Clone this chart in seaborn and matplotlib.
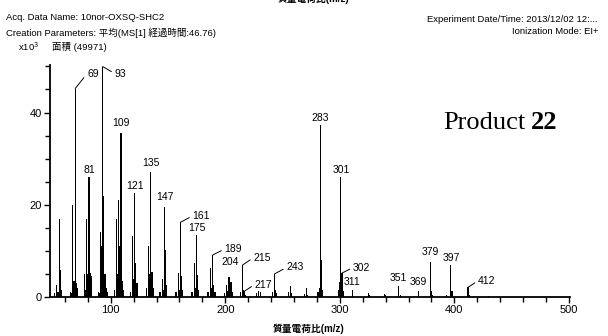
import numpy as np
import pandas as pd
import matplotlib
matplotlib.use("Agg")
import matplotlib.pyplot as plt
import seaborn as sns

# EI mass spectrum, intensities in units of 10^3 counts
mz = [51, 53, 54, 55, 56, 57,
      65, 66, 67, 68, 69, 70, 71,
      77, 78, 79, 80, 81, 82, 83,
      89, 90, 91, 92, 93, 94, 95, 96, 97,
      103, 105, 106, 107, 108, 109, 110, 111,
      117, 119, 120, 121, 122, 123,
      131, 133, 134, 135, 136, 137,
      143, 145, 146, 147, 148, 149,
      157, 159, 160, 161, 162, 163,
      171, 173, 174, 175, 176, 177,
      185, 187, 188, 189, 190, 191,
      199, 201, 202, 203, 204, 205, 206,
      213, 215, 216, 217, 218,
      227, 229, 231,
      241, 243, 244, 245,
      255, 257, 258,
      269, 271, 272,
      281, 282, 283, 284, 285,
      299, 300, 301, 302, 303,
      311, 325, 326, 339, 340,
      351, 353, 369, 379, 380, 381, 393,
      397, 398, 412, 413, 430]
intensity = [0.8, 2.5, 1.0, 17.0, 5.8, 1.5,
             1.0, 0.8, 20.0, 3.5, 45.2, 3.0, 2.0,
             5.0, 1.5, 17.0, 5.0, 26.0, 5.2, 4.5,
             1.0, 0.8, 14.0, 11.0, 49.97, 22.0, 5.0, 2.0, 1.0,
             1.5, 17.0, 5.0, 21.0, 11.0, 35.5, 3.5, 1.5,
             1.0, 13.3, 4.0, 22.6, 7.4, 3.0,
             2.0, 11.0, 5.0, 27.0, 5.5, 2.0,
             1.0, 3.8, 1.5, 19.5, 10.1, 2.5,
             1.0, 5.3, 1.5, 16.2, 4.5, 1.5,
             1.0, 7.3, 2.0, 13.4, 4.8, 1.5,
             1.0, 6.3, 2.0, 9.1, 2.5, 1.0,
             0.8, 2.6, 1.2, 4.4, 4.3, 3.2, 1.0,
             1.0, 6.9, 1.5, 1.3, 0.5,
             0.8, 1.3, 1.1,
             1.0, 5.0, 1.5, 0.8,
             1.0, 2.3, 0.8,
             0.6, 2.0, 0.5,
             1.0, 2.0, 37.2, 8.0, 1.5,
             1.5, 3.3, 26.0, 5.2, 1.2,
             1.5, 0.9, 0.5, 0.6, 0.4,
             2.4, 0.5, 1.4, 7.5, 1.3, 0.4, 0.5,
             6.9, 1.2, 2.1, 0.5, 0.3]

# labelled peaks: m/z, text offset (px), leader line
label_mz = [69, 93, 81, 109, 121, 135, 147, 161, 175, 189, 204, 215, 217,
            243, 283, 301, 302, 311, 351, 369, 379, 397, 412]
label_dx = [12, 12, 0, 0, 0, 0, 0, 12, 0, 12, 0, 11, 10,
            12, 0, 0, 11, 0, 0, 0, 0, 0, 10]
label_dy = [15, -7, 2, 5, 2, 4.5, 5, 6.5, 2, 6, 10, 7.5, 6.5,
            6.5, 2, 2, 5.5, 3, 3, 4, 5, 2, 6.5]
label_leader = [True, True, False, False, False, False, False, True, False, True,
                False, True, True, True, False, False, True, False, False, False,
                False, False, True]

x_major = [100, 200, 300, 400, 500]
y_major = [0, 20, 40]

spec = pd.DataFrame({"mz": mz, "intensity": intensity})
peak_height = dict(zip(mz, intensity))

sns.set_theme(style="ticks")
plt.rcParams["font.family"] = ["Liberation Sans", "Noto Sans CJK JP", "DejaVu Sans"]

W, H = 608, 336
fig = plt.figure(figsize=(W / 100, H / 100), dpi=100)
ax = fig.add_axes([50 / W, 39 / H, 520 / W, 232 / H])

sns.histplot(data=spec, x="mz", weights="intensity", discrete=True, shrink=1.0,
             color="black", alpha=1.0, linewidth=0, ax=ax)

ax.set_xlim(47, 501)
ax.set_ylim(0, 50.3)
ax.set_xlabel("")
ax.set_ylabel("")
ax.set_xticks(x_major)
ax.set_xticks(np.arange(60, 501, 20), minor=True)
ax.set_yticks(y_major)
ax.set_yticks(np.arange(0, 51, 5), minor=True)
ax.tick_params(axis="both", which="major", length=4, width=1, color="black",
               labelsize=8, pad=2, labelcolor="black")
ax.tick_params(axis="both", which="minor", length=3.5, width=1, color="black")
for side in ("top", "right"):
    ax.spines[side].set_visible(False)
for side in ("left", "bottom"):
    ax.spines[side].set_linewidth(1.3)
    ax.spines[side].set_color("black")

for m, dx, dy, lead in zip(label_mz, label_dx, label_dy, label_leader):
    h = peak_height[m]
    if lead:
        ax.annotate(str(m), xy=(m, h), xytext=(dx, dy), textcoords="offset pixels",
                    ha="left", va="center", fontsize=7.5, color="black",
                    arrowprops=dict(arrowstyle="-", lw=0.7, color="black",
                                    shrinkA=0, shrinkB=0, relpos=(0, 0.5)))
    else:
        ax.annotate(str(m), xy=(m, h), xytext=(dx, dy), textcoords="offset pixels",
                    ha="center", va="bottom", fontsize=7.5, color="black")


def ftext(x, y, s, **kw):
    return fig.text(x / W, 1 - y / H, s, **kw)


hdr = dict(fontsize=6.8, color="black", va="center")
ftext(6, 17.5, "Acq. Data Name: 10nor-OXSQ-SHC2", ha="left", **hdr)
ftext(6, 33, "Creation Parameters: 平均(MS[1] 経過時間:46.76)", ha="left", **hdr)
ftext(18, 46.5, r"x10$^3$", ha="left", **hdr)
ftext(52, 46.5, "面積 (49971)", ha="left", **hdr)
ftext(598, 20, "Experiment Date/Time: 2013/12/02 12:...", ha="right", **hdr)
ftext(598, 31.5, "Ionization Mode: EI+", ha="right", **hdr)

ftext(309, 329, "質量電荷比(m/z)", ha="center", fontsize=7, fontweight="bold",
      va="center", color="black")
ftext(314, 3.5, "質量電荷比(m/z)", ha="center", fontsize=7, fontweight="bold",
      va="bottom", color="black")

# "Product 22" with a bold compound number
t1 = ftext(443, 129, "Product", ha="left", va="baseline", fontsize=19,
           family="Liberation Serif", color="black")
fig.canvas.draw()
bb = t1.get_window_extent(renderer=fig.canvas.get_renderer())
fig.text((bb.x1 + 6) / W, 1 - 129 / H, "22", ha="left", va="baseline", fontsize=19,
         family="Liberation Serif", fontweight="bold", color="black")

fig.savefig("out.png", dpi=100, facecolor="white")
